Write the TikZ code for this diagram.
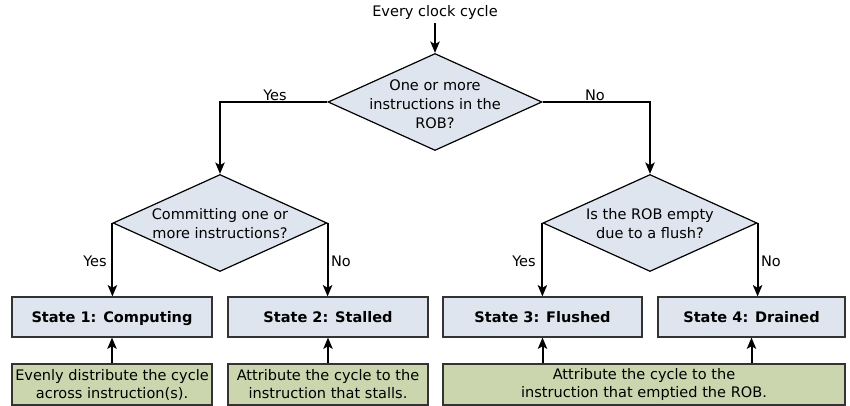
\documentclass[tikz,border=0pt]{standalone}
\usepackage{fontspec}
\setmainfont{DejaVu Sans}
\usetikzlibrary{shapes.geometric,arrows.meta}
\definecolor{boxblue}{HTML}{DEE5EE}
\definecolor{boxgreen}{HTML}{CBD6AE}
\definecolor{edge}{HTML}{333333}
\tikzset{
  dec/.style={diamond,draw=black,line width=0.9pt,fill=boxblue,inner sep=0pt,minimum width=160.5pt,minimum height=72.75pt},
  dectext/.style={align=center,font=\fontsize{10.9pt}{14.3pt}\selectfont,inner sep=0pt},
  state/.style={rectangle,draw=edge,line width=0.8pt,fill=boxblue,minimum width=150pt,minimum height=30pt,inner sep=0pt,text height=8pt,text depth=0pt,font=\fontsize{10.9pt}{13pt}\selectfont\bfseries},
  note/.style={rectangle,draw=edge,line width=0.8pt,fill=boxgreen,minimum height=30.75pt,inner sep=0pt,align=center,font=\fontsize{10.9pt}{13.5pt}\selectfont},
  lbl/.style={font=\fontsize{10.9pt}{13pt}\selectfont,inner sep=0pt},
  arr/.style={line width=1.5pt,-{Stealth[length=8.5pt,width=7pt,inset=2pt]}}
}
\begin{document}
\begin{tikzpicture}[x=0.75pt,y=-0.75pt]
\useasboundingbox (0,0) rectangle (850,406);
% title
\node[lbl] (title) at (435,12) {Every clock cycle};
% diamonds
\node[dec] (d1) at (435,102) {};
\node[dectext] (d1t) at (435,104) {One or more\\instructions in the\\ROB?};
\node[dec] (d2) at (220,223) {};
\node[dectext] (d2t) at (220,224) {Committing one or\\more instructions?};
\node[dec] (d3) at (650,223) {};
\node[dectext] (d3t) at (650,224) {Is the ROB empty\\due to a flush?};
% states
\node[state,minimum width=150pt] (s1) at (112,317) {State 1: Computing};
\node[state,minimum width=150pt] (s2) at (328,317) {State 2: Stalled};
\node[state,minimum width=149.25pt] (s3) at (542.5,317) {State 3: Flushed};
\node[state,minimum width=140.25pt] (s4) at (751.5,317) {State 4: Drained};
% notes
\node[note,minimum width=150pt] (n1) at (112,384.5) {Evenly distribute the cycle\\across instruction(s).};
\node[note,minimum width=150pt] (n2) at (328,384.5) {Attribute the cycle to the\\instruction that stalls.};
\node[note,minimum width=301.5pt] (n3) at (644,384.5) {Attribute the cycle to the\\instruction that emptied the ROB.};
% connectors
\draw[arr] ([yshift=-3pt]d1.north |- title.south) -- (d1.north);
\draw[arr] (d1.west) -| (d2.north);
\draw[arr] (d1.east) -| (d3.north);
\draw[arr] (d2.west) -- (d2.west |- s1.north);
\draw[arr] (d2.east) -- (d2.east |- s2.north);
\draw[arr] (d3.west) -- (d3.west |- s3.north);
\draw[arr] (d3.east) -- (d3.east |- s4.north);
\draw[arr] (n1.north) -- (s1.south);
\draw[arr] (n2.north) -- (s2.south);
\draw[arr] (s3.south |- n3.north) -- (s3.south);
\draw[arr] (s4.south |- n3.north) -- (s4.south);
% labels
\node[lbl] at (275,95) {Yes};
\node[lbl] at (595,95) {No};
\node[lbl] at (95,261) {Yes};
\node[lbl] at (341,261) {No};
\node[lbl] at (524,261) {Yes};
\node[lbl] at (771,261) {No};
\end{tikzpicture}
\end{document}
